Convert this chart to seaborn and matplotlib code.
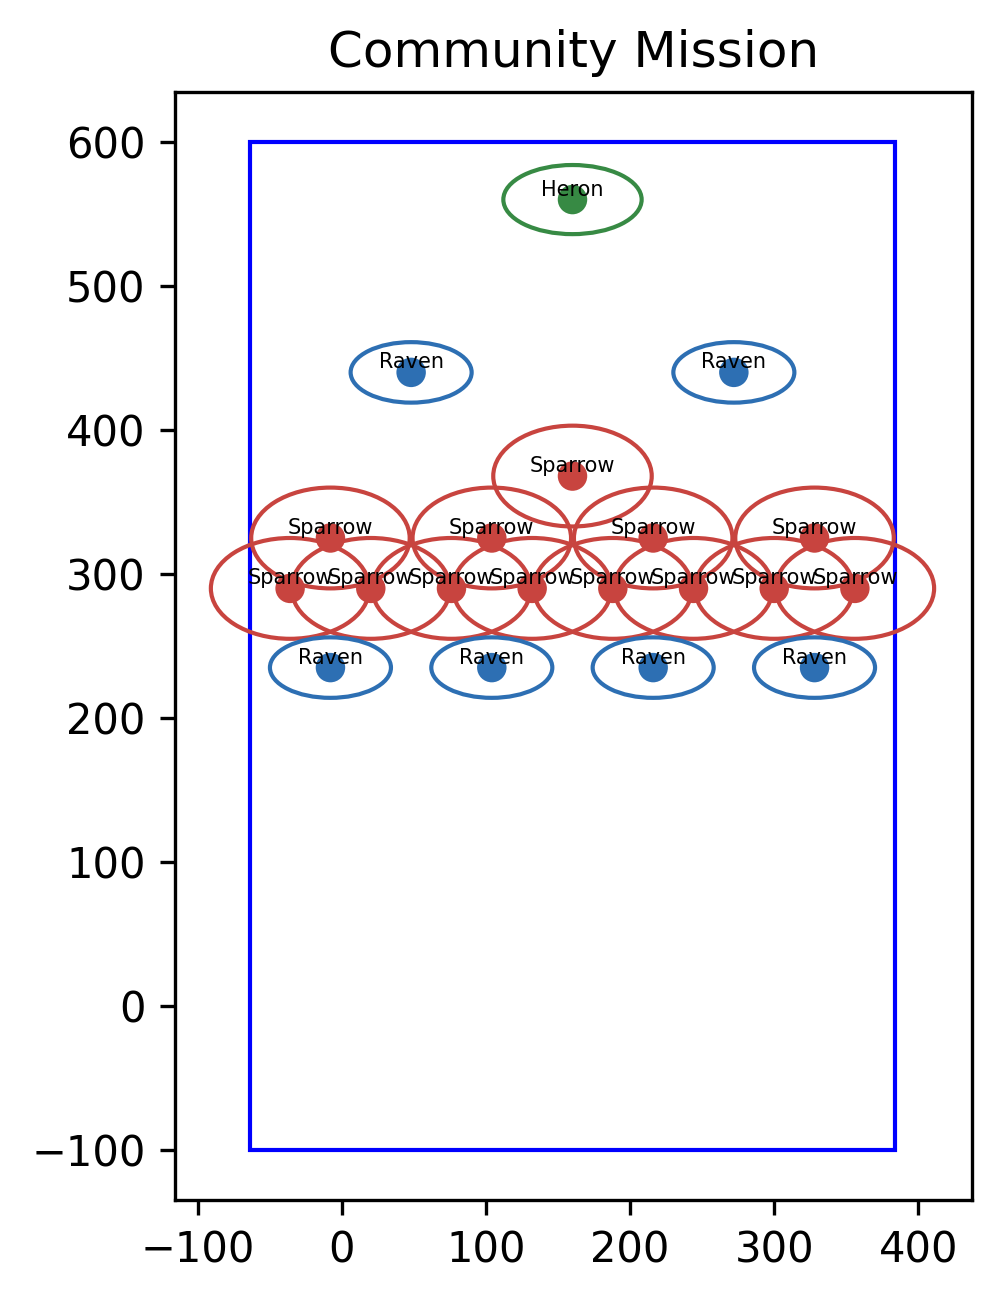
import pandas as pd
import seaborn as sns
import matplotlib.pyplot as plt
from matplotlib.patches import Ellipse, Rectangle

# birds and where they sit
birds = ["Heron",
         "Raven", "Raven",
         "Sparrow",
         "Sparrow", "Sparrow", "Sparrow", "Sparrow",
         "Sparrow", "Sparrow", "Sparrow", "Sparrow",
         "Sparrow", "Sparrow", "Sparrow", "Sparrow",
         "Raven", "Raven", "Raven", "Raven"]
bird_x = [160,
          48, 272,
          160,
          -8, 104, 216, 328,
          -36, 20, 76, 132, 188, 244, 300, 356,
          -8, 104, 216, 328]
bird_y = [560,
          440, 440,
          368,
          325, 325, 325, 325,
          290, 290, 290, 290, 290, 290, 290, 290,
          235, 235, 235, 235]

# range ellipse per species (width, height)
species = ["Heron", "Raven", "Sparrow"]
range_w = [96, 84, 110]
range_h = [48, 42, 70]
colors = ["#378a44", "#2d6fb3", "#c8443f"]

# mission area
area_x = [-64, 384]
area_y = [-100, 600]

df = pd.DataFrame({"bird": birds, "x": bird_x, "y": bird_y})
palette = dict(zip(species, colors))
sizes = {s: (w, h) for s, w, h in zip(species, range_w, range_h)}

fig = plt.figure(figsize=(1001 / 300, 1302 / 300), dpi=300)
ax = fig.add_axes([174.7 / 1001, 102 / 1302, 797.6 / 1001, 1108 / 1302])

ax.add_patch(Rectangle((area_x[0], area_y[0]), area_x[1] - area_x[0],
                       area_y[1] - area_y[0], fill=False, edgecolor="blue", lw=1))

# Create the range ellipses
for _, row in df.iterrows():
    w, h = sizes[row["bird"]]
    ax.add_patch(Ellipse((row["x"], row["y"]), w, h, fill=False,
                         edgecolor=palette[row["bird"]], lw=1))

# Create the scatter of birds
sns.scatterplot(data=df, x="x", y="y", hue="bird", palette=palette,
                s=50, edgecolor="none", legend=False, ax=ax, zorder=3)

for _, row in df.iterrows():
    ax.text(row["x"], row["y"], row["bird"], fontsize=5,
            ha="center", va="bottom", zorder=4)

ax.set_xlim(-116.1, 437.5)
ax.set_ylim(-134.7, 634.7)
ax.set_xlabel("")
ax.set_ylabel("")
ax.set_title("Community Mission")

plt.savefig("out.png", dpi=300)
